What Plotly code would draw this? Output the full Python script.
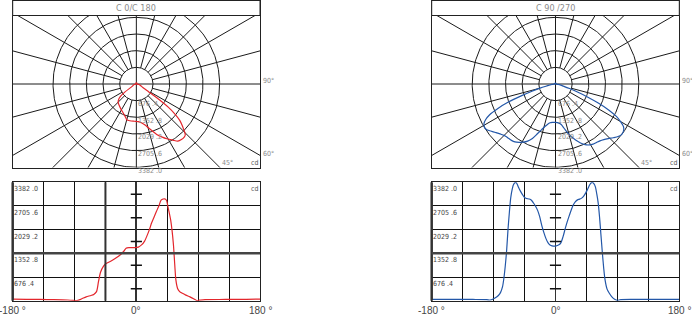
import numpy as np
import plotly.graph_objects as go

# ---------------- data ----------------
RED_ANGLES = [-180, -160, -140, -120, -100, -92, -87, -80, -73, -66, -62, -58, -55, -52, -48, -44,
              -38, -32, -24, -18, -15, -10, -3, 3, 8, 12, 15, 19, 22, 26, 29, 33, 36, 39, 42, 44,
              46, 48, 50, 52, 54, 56, 57.5, 60, 63, 67, 72, 78, 84, 88, 92, 100, 130, 160, 180]
RED_VALUES = [45, 40, 35, 30, 20, 10, 0, 50, 110, 150, 180, 260, 560, 820, 980, 1060,
              1120, 1190, 1300, 1420, 1500, 1515, 1515, 1530, 1600, 1700, 1830, 2030, 2210, 2400, 2540, 2720, 2870, 2905, 2905, 2860,
              2680, 2500, 2300, 2000, 1600, 1000, 600, 350, 260, 210, 160, 110, 50, 5, 15, 30, 35, 40, 45]

BLUE_ANGLES = [-180, -150, -120, -100, -95, -88, -83, -80, -77, -75, -73, -71, -69, -67, -65, -63, -61, -58,
               -56, -54, -51, -48, -45, -42, -38, -35, -32, -29, -26, -23, -20, -17, -14, -11, -8, -5, 0,
               5, 8, 11, 14, 17, 20, 23, 26, 29, 32, 35, 38, 41, 44, 47, 50, 53, 56, 58, 60, 62, 64, 66,
               68, 70, 72, 75, 78, 82, 86, 90, 95, 120, 150, 180]
BLUE_VALUES = [35, 35, 35, 30, 20, 80, 150, 230, 400, 650, 1000, 1450, 2050, 2540, 2950, 3180, 3320, 3382,
               3340, 3250, 3130, 3030, 2950, 2920, 2905, 2870, 2790, 2700, 2580, 2400, 2150, 1950, 1780, 1660, 1590, 1565, 1560,
               1595, 1660, 1830, 2050, 2250, 2430, 2600, 2740, 2830, 2880, 2900, 2930, 2990, 3080, 3200, 3320, 3382, 3340, 3250, 3050, 2800, 2400, 1900,
               1400, 950, 600, 330, 220, 110, 40, 10, 30, 35, 35, 35]

RING_VALUES = [676.4, 1352.8, 2029.2, 2705.6, 3382.0]
RING_LABELS = ["676 .4", "1352 .8", "2029 .2", "2705 .6", "3382 .0"]
X_TICKS = [-180, -135, -90, -45, 0, 45, 90, 135, 180]
X_LABELS = {-180: "-180 °", 0: "0°", 180: "180 °"}
TITLES = ["C 0/C 180", "C 90 /270"]
SPOKE_STEP = 15

RED = "#e3262c"
BLUE = "#2357a8"
GRID = "#1a1a1a"
LABEL_GRAY = "#8a8a8a"

# ---------------- layout geometry (pixels) ----------------
W, H = 692, 315
def xd(a, b):
    return [a / W, b / W]
def yd(a, b):
    return [1 - b / H, 1 - a / H]
def ax(n):
    s = "" if n == 1 else str(n)
    return "x" + s, "y" + s, "xaxis" + s, "yaxis" + s

PANELS_X = [(12.7, 260.0), (431.7, 679.3)]
POLAR_Y = (0.5, 167.5)
LIN_Y = (182.3, 300.7)
R_PX = 83.3  # pixel radius of outermost ring
PPU = R_PX / RING_VALUES[-1]
TITLE_PX = 15.0

fig = go.Figure()
layout = dict(width=W, height=H, margin=dict(l=0, r=0, t=0, b=0),
              paper_bgcolor="white", plot_bgcolor="white", showlegend=False,
              hovermode=False)
shapes, annotations = [], []
font_small = "Liberation Sans Narrow, DejaVu Sans Condensed, Liberation Sans, Arial"
OP = 0.99

series = [(RED_ANGLES, RED_VALUES, RED), (BLUE_ANGLES, BLUE_VALUES, BLUE)]

for i, ((ang, val, col), (px0, px1)) in enumerate(zip(series, PANELS_X)):
    xp, yp, xpk, ypk = ax(2 * i + 1)
    xl, yl, xlk, ylk = ax(2 * i + 2)
    half_w = (px1 - px0) / 2 / PPU
    half_h = (POLAR_Y[1] - POLAR_Y[0]) / 2 / PPU

    # ---- polar grid: rings ----
    t = np.linspace(0, 2 * np.pi, 361)
    cx, cy = [], []
    for r in RING_VALUES:
        cx += list(r * np.sin(t)) + [None]
        cy += list(r * np.cos(t)) + [None]
    fig.add_trace(go.Scatter(x=cx, y=cy, mode="lines", line=dict(color=GRID, width=1),
                             xaxis=xp, yaxis=yp, hoverinfo="skip"))
    # ---- spokes ----
    sx, sy = [], []
    for a in range(0, 360, SPOKE_STEP):
        th = np.radians(a)
        r0 = 0 if a % 90 == 0 else RING_VALUES[0]
        r1 = 20000
        sx += [r0 * np.sin(th), r1 * np.sin(th), None]
        sy += [-r0 * np.cos(th), -r1 * np.cos(th), None]
    fig.add_trace(go.Scatter(x=sx, y=sy, mode="lines", line=dict(color=GRID, width=1),
                             xaxis=xp, yaxis=yp, hoverinfo="skip"))
    # ---- polar curve ----
    th = np.radians(np.array(ang, dtype=float))
    v = np.array(val, dtype=float)
    fig.add_trace(go.Scatter(x=v * np.sin(th), y=-v * np.cos(th), mode="lines",
                             line=dict(color=col, width=1.2, shape="spline", smoothing=0.8),
                             xaxis=xp, yaxis=yp, hoverinfo="skip"))

    # ---- linear curve ----
    fig.add_trace(go.Scatter(x=ang, y=val, mode="lines",
                             line=dict(color=col, width=1.2, shape="spline", smoothing=0.8),
                             xaxis=xl, yaxis=yl, hoverinfo="skip"))
    # tick marks on 0° line (half steps)
    step = RING_VALUES[0]
    mids = [r - step / 2 for r in RING_VALUES]
    fig.add_trace(go.Scatter(x=[0] * len(mids), y=mids, mode="markers",
                             marker=dict(symbol="line-ew", size=8, line=dict(width=1.5, color="#111")),
                             xaxis=xl, yaxis=yl, hoverinfo="skip"))

    # ---- axes ----
    layout[xpk] = dict(domain=xd(px0, px1), range=[-half_w, half_w], showgrid=False,
                       zeroline=False, showticklabels=False, ticks="", showline=True,
                       mirror=True, linecolor="#222", linewidth=1, anchor=yp, fixedrange=True)
    layout[ypk] = dict(domain=yd(*POLAR_Y), range=[-half_h, half_h], showgrid=False,
                       zeroline=False, showticklabels=False, ticks="", showline=True,
                       mirror=True, linecolor="#222", linewidth=1, anchor=xp, fixedrange=True)
    layout[xlk] = dict(domain=xd(px0, px1), range=[-180, 180], tickvals=X_TICKS,
                       showgrid=True, gridcolor="#111", gridwidth=1, showticklabels=False,
                       ticks="", zeroline=True, zerolinecolor="#333",
                       zerolinewidth=2 if i == 0 else 1,
                       showline=True, mirror=True, linecolor="#222", linewidth=1,
                       anchor=yl, fixedrange=True)
    layout[ylk] = dict(domain=yd(*LIN_Y), range=[0, RING_VALUES[-1]], tickvals=[0] + RING_VALUES,
                       showgrid=True, gridcolor="#111", gridwidth=1, showticklabels=False,
                       ticks="", zeroline=False, showline=True, mirror=True,
                       linecolor="#222", linewidth=1, anchor=xl, fixedrange=True)

    # thick lines in linear chart
    shapes.append(dict(type="line", xref=f"{xl} domain", yref=f"{yl} domain", x0=0, x1=0, y0=0, y1=1,
                       line=dict(color="#333", width=2.5)))
    shapes.append(dict(type="line", xref=f"{xl} domain", yref=yl, x0=0, x1=1,
                       y0=RING_VALUES[1], y1=RING_VALUES[1], line=dict(color="#444", width=2.5)))
    if i == 0:
        shapes.append(dict(type="line", xref=xl, yref=f"{yl} domain", x0=X_TICKS[3], x1=X_TICKS[3],
                           y0=0, y1=1, line=dict(color="#333", width=2)))

    # title strip
    frac = TITLE_PX / (POLAR_Y[1] - POLAR_Y[0])
    shapes.append(dict(type="rect", xref=f"{xp} domain", yref=f"{yp} domain", x0=0, x1=1,
                       y0=1 - frac, y1=1, fillcolor="white", line=dict(color="#222", width=1),
                       layer="above"))
    annotations.append(dict(xref=f"{xp} domain", yref=f"{yp} domain", x=0.5, y=1 - frac / 2,
                            text=TITLES[i], showarrow=False, xanchor="center", yanchor="middle",
                            opacity=OP, font=dict(size=9, color="#8a8a8a", family=font_small)))

    # ring labels in polar
    for r, lab in zip(RING_VALUES, RING_LABELS):
        annotations.append(dict(xref=xp, yref=yp, x=0, y=-r, text=lab, showarrow=False,
                                xanchor="left", yanchor="middle", xshift=0, yshift=-3.5,
                                opacity=OP, font=dict(size=7, color=LABEL_GRAY, family=font_small)))
    # angle labels at frame edges
    annotations.append(dict(xref=f"{xp} domain", yref=yp, x=1, y=0, text="90°", showarrow=False,
                            xanchor="left", yanchor="middle", xshift=1, yshift=3, opacity=OP,
                            font=dict(size=7, color=LABEL_GRAY, family=font_small)))
    annotations.append(dict(xref=f"{xp} domain", yref=yp, x=1, y=-half_w / np.tan(np.radians(60)),
                            text="60°", showarrow=False, xanchor="left", yanchor="middle", opacity=OP,
                            xshift=1, yshift=1, font=dict(size=7, color=LABEL_GRAY, family=font_small)))
    annotations.append(dict(xref=xp, yref=f"{yp} domain", x=half_h * np.tan(np.radians(45)), y=0,
                            text="45°", showarrow=False, xanchor="left", yanchor="bottom", opacity=OP,
                            xshift=0, yshift=-1, font=dict(size=7, color=LABEL_GRAY, family=font_small)))
    annotations.append(dict(xref=f"{xp} domain", yref=f"{yp} domain", x=1, y=0, text="cd",
                            showarrow=False, xanchor="right", yanchor="bottom", yshift=-1, opacity=OP,
                            font=dict(size=7, color="#555", family=font_small)))

    # linear labels
    for r, lab in zip(RING_VALUES, RING_LABELS):
        annotations.append(dict(xref=xl, yref=yl, x=-180, y=r, text=lab, showarrow=False,
                                xanchor="left", yanchor="top", xshift=-1, yshift=-1, opacity=OP,
                                font=dict(size=7, color="#444", family=font_small)))
    annotations.append(dict(xref=f"{xl} domain", yref=f"{yl} domain", x=1, y=1, text="cd",
                            showarrow=False, xanchor="right", yanchor="top", yshift=-1, opacity=OP,
                            font=dict(size=7, color="#555", family=font_small)))
    for xv, lab in X_LABELS.items():
        annotations.append(dict(xref=xl, yref=yl, x=xv, y=0, text=lab, showarrow=False,
                                xanchor="center", yanchor="middle", yshift=-10, opacity=OP,
                                font=dict(size=10, color="#444", family="Liberation Sans, Arial")))

layout["shapes"] = shapes
layout["annotations"] = annotations
fig.update_layout(**layout)
fig.write_html("out.html")
